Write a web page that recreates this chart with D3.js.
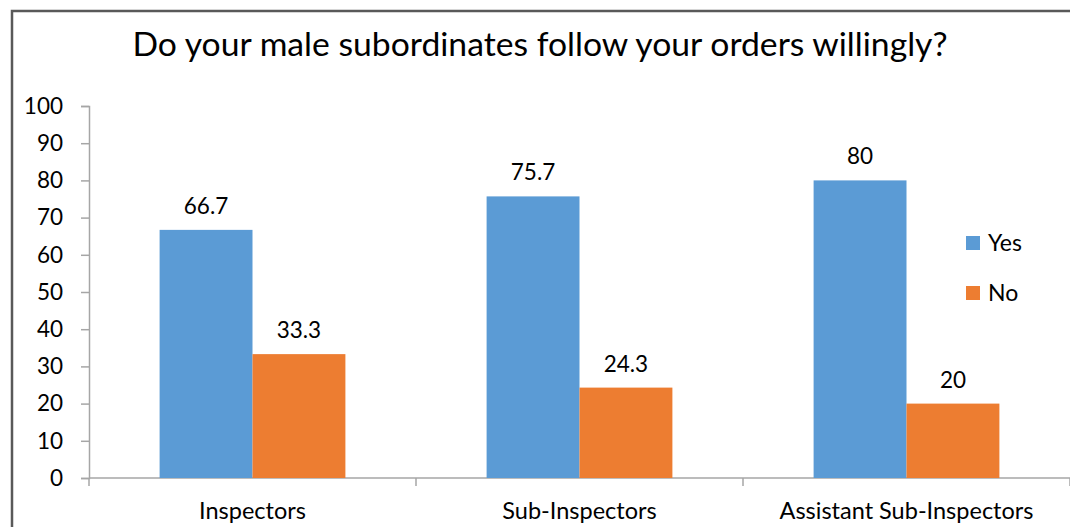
<!DOCTYPE html>
<html>
<head>
<meta charset="utf-8">
<script src="https://cdn.jsdelivr.net/npm/d3@7"></script>
<style>
  body { margin: 0; background: #fff; }
  svg { display: block; font-family: Lato, "Open Sans", sans-serif; }
</style>
</head>
<body>
<div id="chart"></div>
<script>
// chart data
const categories = ["Inspectors", "Sub-Inspectors", "Assistant Sub-Inspectors"];
const seriesNames = ["Yes", "No"];
const yesValues = [66.7, 75.7, 80];
const noValues = [33.3, 24.3, 20];
const yTicks = [0, 10, 20, 30, 40, 50, 60, 70, 80, 90, 100];
const titleText = "Do your male subordinates follow your orders willingly?";

const colors = { Yes: "#5b9bd5", No: "#ed7d31" };

const width = 1070, height = 527;
const margin = { top: 106, right: 0, bottom: 49, left: 89 };

const svg = d3.select("#chart").append("svg")
    .attr("width", width)
    .attr("height", height);

// outer frame
svg.append("rect")
    .attr("x", 12).attr("y", 11)
    .attr("width", width + 20).attr("height", height + 20)
    .attr("fill", "none")
    .attr("stroke", "#595959")
    .attr("stroke-width", 2.5);

svg.append("text")
    .attr("x", 540).attr("y", 56)
    .attr("text-anchor", "middle")
    .style("font-size", "33.7px")
    .attr("fill", "#000")
    .text(titleText);

const x = d3.scaleBand()
    .domain(categories)
    .range([margin.left, width - margin.right]);

// excel style gap: bars take about 57% of each category
const xInner = d3.scaleBand()
    .domain(seriesNames)
    .range([0, x.bandwidth()])
    .paddingInner(0)
    .paddingOuter(0.76);

const y = d3.scaleLinear()
    .domain([0, 100])
    .range([height - margin.bottom, margin.top]);

// y axis
const yAxis = svg.append("g")
    .attr("transform", `translate(${margin.left},0)`)
    .call(d3.axisLeft(y).tickValues(yTicks).tickSize(8).tickPadding(18));
yAxis.selectAll("path, line").attr("stroke", "#a6a6a6").attr("stroke-width", 1.5);
yAxis.selectAll("text").attr("fill", "#000").style("font-size", "22.5px").style("font-family", "Lato, sans-serif");

// x axis with separator ticks between categories
const xAxisG = svg.append("g")
    .attr("transform", `translate(0,${y(0)})`);
xAxisG.append("line")
    .attr("x1", margin.left).attr("x2", width - margin.right)
    .attr("y1", 0).attr("y2", 0)
    .attr("stroke", "#a6a6a6").attr("stroke-width", 1.5);
const seps = categories.map(c => x(c)).concat([x(categories[categories.length - 1]) + x.bandwidth()]);
xAxisG.selectAll(".sep")
    .data(seps)
    .join("line")
    .attr("class", "sep")
    .attr("x1", d => d).attr("x2", d => d)
    .attr("y1", 0).attr("y2", 8)
    .attr("stroke", "#a6a6a6").attr("stroke-width", 1.5);
xAxisG.selectAll(".cat")
    .data(categories)
    .join("text")
    .attr("class", "cat")
    .attr("x", d => x(d) + x.bandwidth() / 2)
    .attr("y", 41)
    .attr("text-anchor", "middle")
    .style("font-size", "23.5px")
    .attr("fill", "#000")
    .text(d => d);

// bars
const rows = categories.map((c, i) => ({ cat: c, Yes: yesValues[i], No: noValues[i] }));
const groups = svg.selectAll(".grp")
    .data(rows)
    .join("g")
    .attr("class", "grp")
    .attr("transform", d => `translate(${x(d.cat)},0)`);

groups.selectAll("rect")
    .data(d => seriesNames.map(s => ({ s: s, v: d[s] })))
    .join("rect")
    .attr("x", d => xInner(d.s))
    .attr("y", d => y(d.v))
    .attr("width", xInner.bandwidth())
    .attr("height", d => y(0) - y(d.v))
    .attr("fill", d => colors[d.s]);

groups.selectAll(".lbl")
    .data(d => seriesNames.map(s => ({ s: s, v: d[s] })))
    .join("text")
    .attr("class", "lbl")
    .attr("x", d => xInner(d.s) + xInner.bandwidth() / 2)
    .attr("y", d => y(d.v) - 16)
    .attr("text-anchor", "middle")
    .style("font-size", "22.5px")
    .attr("fill", "#000")
    .text(d => d.v);

// legend
const legend = svg.append("g").attr("transform", "translate(966,236)");
const li = legend.selectAll("g")
    .data(seriesNames)
    .join("g")
    .attr("transform", (d, i) => `translate(0,${i * 50})`);
li.append("rect")
    .attr("width", 14).attr("height", 14)
    .attr("fill", d => colors[d]);
li.append("text")
    .attr("x", 22).attr("y", 15)
    .style("font-size", "23px")
    .attr("fill", "#000")
    .text(d => d);
</script>
</body>
</html>
